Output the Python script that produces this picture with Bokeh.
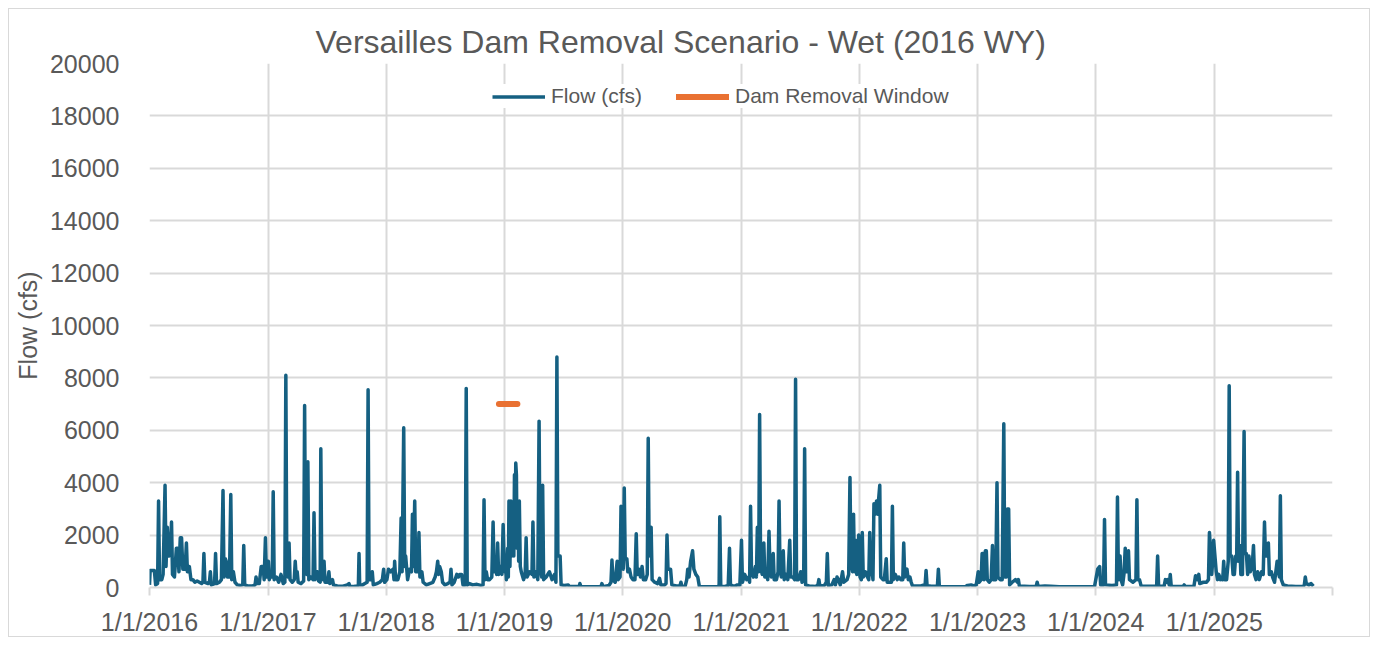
import pandas as pd
from bokeh.plotting import figure
from bokeh.models import ColumnDataSource, Range1d, FixedTicker, Legend, LegendItem
from bokeh.embed import file_html
from bokeh.resources import INLINE

# ---------------- data ----------------
# daily-flow hydrograph, one pair of lists per calendar year ("MM-DD", cfs)
days_2016 = ["01-01", "01-03", "01-16", "01-20", "01-26", "01-29", "02-01", "02-08", "02-12", "02-18",
             "02-21", "02-25", "03-01", "03-06", "03-09", "03-12", "03-18", "03-24", "03-28", "04-01",
             "04-05", "04-09", "04-13", "04-20", "04-24", "04-27", "05-03", "05-08", "05-14", "05-20",
             "05-27", "06-03", "06-10", "06-14", "06-17", "06-20", "06-30", "07-04", "07-07", "07-10",
             "07-20", "07-23", "07-26", "08-04", "08-10", "08-15", "08-18", "08-22", "08-25", "08-29",
             "09-04", "09-08", "09-11", "09-16", "09-21", "09-28", "10-08", "10-15", "10-18", "10-21",
             "10-30", "11-15", "11-22", "11-25", "11-28", "12-05", "12-11", "12-17", "12-20", "12-24",
             "12-27", "12-30"]
flow_2016 = [100, 650, 650, 100, 150, 3300, 300, 300, 500, 3900,
             800, 2300, 1200, 1500, 2500, 500, 400, 1500, 1500, 600,
             1900, 1900, 700, 700, 1700, 600, 800, 300, 300, 200,
             250, 200, 150, 200, 1300, 200, 150, 200, 600, 100,
             150, 1300, 150, 200, 300, 3700, 400, 1100, 1000, 400,
             400, 3550, 300, 600, 200, 100, 80, 100, 1600, 100,
             60, 60, 100, 400, 150, 150, 800, 800, 300, 1900,
             400, 1000]

days_2017 = ["01-02", "01-05", "01-09", "01-14", "01-17", "01-20", "01-27", "02-03", "02-10", "02-17",
             "02-22", "02-25", "02-28", "03-04", "03-07", "03-10", "03-17", "03-23", "03-26", "03-29",
             "04-01", "04-04", "04-13", "04-21", "04-24", "04-27", "05-01", "05-04", "05-07", "05-13",
             "05-20", "05-23", "05-26", "06-02", "06-06", "06-11", "06-13", "06-16", "06-20", "06-23",
             "06-26", "07-04", "07-08", "07-11", "07-19", "07-22", "08-03", "08-20", "09-03", "09-08",
             "09-11", "09-25", "10-04", "10-07", "10-09", "10-11", "10-20", "10-27", "11-03", "11-06",
             "11-09", "11-15", "11-19", "11-22", "12-03", "12-12", "12-20", "12-24", "12-27"]
flow_2017 = [1000, 300, 500, 400, 3650, 300, 400, 200, 500, 150,
             200, 8100, 600, 400, 1700, 300, 200, 300, 1000, 400,
             600, 200, 150, 250, 6950, 600, 500, 4800, 300, 400,
             300, 2850, 300, 600, 250, 200, 5300, 500, 300, 1000,
             200, 200, 600, 150, 300, 100, 60, 50, 100, 150,
             40, 50, 60, 100, 1300, 100, 100, 150, 200, 7550,
             300, 300, 600, 100, 150, 200, 300, 700, 200]

days_2018 = ["01-03", "01-08", "01-15", "01-22", "01-25", "01-27", "01-30", "02-06", "02-12", "02-16",
             "02-19", "02-24", "02-27", "03-02", "03-08", "03-14", "03-20", "03-23", "03-26", "03-30",
             "04-02", "04-06", "04-09", "04-12", "04-15", "04-21", "04-25", "05-05", "05-15", "05-25",
             "06-01", "06-05", "06-09", "06-12", "06-15", "06-20", "06-24", "07-01", "07-10", "07-17",
             "07-20", "07-23", "07-30", "08-07", "08-12", "08-16", "08-22", "08-26", "09-02", "09-05",
             "09-08", "09-15", "09-25", "10-08", "10-20", "10-27", "10-30", "11-02", "11-06", "11-10",
             "11-16", "11-23", "11-27", "11-30", "12-04", "12-08", "12-11", "12-14", "12-18", "12-24",
             "12-28"]
flow_2018 = [300, 700, 600, 700, 300, 1000, 300, 300, 600, 2650,
             600, 6100, 800, 1200, 300, 700, 600, 2800, 800, 3300,
             600, 1000, 600, 2100, 400, 600, 200, 100, 150, 200,
             400, 600, 1000, 500, 800, 600, 200, 100, 150, 200,
             700, 100, 200, 500, 400, 500, 500, 100, 100, 7600,
             100, 150, 100, 120, 80, 100, 3350, 300, 600, 300,
             300, 400, 2500, 600, 1000, 500, 1700, 500, 800, 500,
             2400]

days_2019 = ["01-01", "01-04", "01-07", "01-11", "01-13", "01-15", "01-18", "01-21", "01-24", "01-28",
             "01-30", "02-01", "02-03", "02-05", "02-07", "02-09", "02-12", "02-14", "02-16", "02-19",
             "02-22", "03-01", "03-06", "03-09",
             "03-12", "03-20", "03-27", "03-30", "04-02", "04-08", "04-14", "04-18", "04-21", "04-26",
             "04-29", "05-02", "05-10", "05-20", "05-28", "06-05", "06-09", "06-12", "06-15", "06-22",
             "06-25", "07-05", "07-17", "07-20", "08-20", "08-22", "08-25", "10-26", "10-29", "11-01",
             "11-20", "11-26", "11-29", "12-02", "12-09", "12-15", "12-18", "12-24", "12-27"]
flow_2019 = [600, 1000, 300, 1500, 400, 3300, 800, 3300, 1200, 3000,
             1200, 4300, 2000, 4750, 4300, 1500, 3300, 1000, 3300, 800,
             600, 300, 500, 1900,
             400, 600, 500, 2500, 400, 600, 300, 6350, 800, 400,
             3900, 300, 400, 600, 300, 500, 200, 8800, 1200, 1200,
             100, 80, 100, 40, 40, 150, 30, 30, 150, 30,
             80, 200, 1050, 300, 200, 1000, 300, 400, 3100]

days_2020 = ["01-03", "01-06", "01-09", "01-14", "01-17", "01-22", "01-27", "02-02", "02-08", "02-12",
             "02-15", "02-20", "02-25", "03-01", "03-05", "03-12", "03-17", "03-20", "03-23", "03-26",
             "03-29", "04-01", "04-09", "04-18", "04-24", "04-28", "05-10", "05-14", "05-17", "05-20",
             "05-28", "06-01", "06-15", "06-26", "06-29", "07-02", "07-12", "07-17", "07-20", "07-24",
             "07-29", "08-04", "08-08", "08-14", "08-20", "08-25", "10-22", "10-25", "10-27", "10-30",
             "11-10", "11-22", "11-26", "11-29", "12-10", "12-20", "12-28"]
flow_2020 = [700, 3800, 1100, 1100, 600, 700, 400, 300, 300, 2050,
             500, 700, 400, 800, 300, 300, 500, 5700, 1200, 2300,
             2300, 300, 200, 150, 350, 100, 100, 150, 2000, 700,
             700, 100, 60, 60, 200, 40, 50, 300, 700, 400,
             1000, 1400, 700, 500, 400, 40, 30, 100, 2700, 60,
             30, 80, 1500, 100, 40, 100, 100]

days_2021 = ["01-02", "01-05", "01-12", "01-18", "01-24", "01-27", "01-30", "02-02", "02-08", "02-14",
             "02-17", "02-20", "02-24", "02-27", "03-02", "03-07", "03-12", "03-15", "03-20", "03-24",
             "03-28", "03-31", "04-04", "04-10", "04-13", "04-20", "04-25", "04-28", "05-01", "05-05",
             "05-11", "05-14", "05-20", "05-25", "05-31", "06-03", "06-10", "06-15", "06-18", "06-21",
             "06-27", "07-04", "07-08", "07-13", "07-16", "07-19", "07-30", "08-20", "08-26", "08-29",
             "09-01", "09-15", "09-21", "09-24", "09-27", "10-08", "10-15", "10-19", "10-24", "10-28",
             "11-03", "11-10", "11-14", "11-24", "11-29", "12-03", "12-06", "12-11", "12-14", "12-17",
             "12-20", "12-24", "12-30"]
flow_2021 = [1800, 200, 500, 300, 400, 200, 3100, 600, 400, 800,
             400, 2300, 600, 6600, 800, 500, 1700, 400, 600, 300,
             2150, 700, 400, 1300, 300, 300, 600, 3300, 700, 400,
             1400, 300, 500, 300, 1800, 400, 400, 300, 7950, 300,
             300, 600, 200, 300, 5300, 100, 60, 40, 100, 300,
             60, 80, 200, 1300, 80, 100, 300, 100, 400, 300,
             100, 600, 200, 300, 500, 4200, 1000, 600, 2800, 600,
             1800, 500, 2000]

days_2022 = ["01-03", "01-07", "01-10", "01-13", "01-20", "01-26", "01-30", "02-02", "02-05", "02-09",
             "02-12", "02-15", "02-19", "02-23", "02-27", "03-01", "03-05", "03-08", "03-15", "03-19",
             "03-25", "03-28", "04-05", "04-10", "04-13", "04-16", "04-22", "04-28", "05-03", "05-09",
             "05-15", "05-18", "05-21", "05-28", "06-01", "06-06", "06-10", "06-14", "07-10", "07-20",
             "07-23", "07-26", "07-29", "08-10", "08-30", "09-02", "09-05", "10-15", "11-25", "12-01",
             "12-12", "12-20", "12-28"]
flow_2022 = [400, 300, 2100, 400, 600, 400, 300, 2100, 500, 600,
             300, 3200, 2800, 3300, 2800, 3300, 3900, 400, 300, 300,
             1100, 200, 200, 200, 3100, 300, 500, 300, 400, 300,
             300, 1700, 400, 700, 300, 400, 200, 60, 60, 100,
             80, 650, 80, 50, 50, 700, 40, 30, 40, 80,
             100, 60, 100]

days_2023 = ["01-03", "01-06", "01-12", "01-15", "01-18", "01-21", "01-25", "01-28", "01-31", "02-06",
             "02-12", "02-16", "02-19", "02-26", "03-02", "03-05", "03-12", "03-18", "03-23", "03-26",
             "03-31", "04-03", "04-07", "04-10", "04-18", "04-28", "05-04", "05-07", "05-10", "06-10",
             "07-01", "07-04", "07-07", "07-28", "08-15", "09-10", "12-28"]
flow_2023 = [600, 200, 300, 1300, 1300, 300, 1400, 1400, 300, 200,
             300, 1600, 300, 300, 4000, 400, 300, 300, 6250, 400,
             400, 3000, 3000, 100, 200, 300, 200, 300, 60, 40,
             40, 200, 40, 60, 50, 30, 30]

days_2024 = ["01-07", "01-13", "01-16", "01-25", "01-28", "01-31", "02-20", "03-05", "03-08", "03-11",
             "03-16", "03-19", "03-24", "03-28", "04-01", "04-05", "04-08", "04-11", "04-14", "04-25",
             "05-04", "05-07", "05-10", "05-15", "05-20", "06-25", "07-07", "07-10", "07-13", "07-30",
             "08-03", "08-08", "08-10", "08-15", "08-18", "08-21", "09-27", "09-30", "10-03", "10-30",
             "11-04", "11-09", "11-14", "11-17", "11-28", "12-08", "12-14", "12-17", "12-20", "12-24",
             "12-27", "12-30"]
flow_2024 = [700, 800, 100, 100, 2600, 100, 80, 100, 3450, 300,
             1200, 300, 100, 500, 1500, 600, 1000, 1400, 300, 200,
             300, 3350, 300, 300, 60, 50, 60, 1200, 60, 50,
             300, 200, 300, 100, 500, 50, 40, 100, 40, 40,
             450, 300, 500, 150, 200, 200, 300, 2100, 1500, 500,
             1000, 1800]

days_2025 = ["01-03", "01-07", "01-11", "01-15", "01-20", "01-24", "01-27", "01-30", "02-02", "02-08",
             "02-13", "02-16", "02-19", "02-24", "02-28", "03-04", "03-08", "03-11", "03-14", "03-17",
             "03-21", "03-24", "03-29", "04-03", "04-06", "04-10", "04-14", "04-18", "04-22", "04-28",
             "05-02", "05-05", "05-10", "05-15", "05-20", "05-27", "06-01", "06-05", "06-08", "06-12",
             "06-17", "06-20", "06-26", "06-30", "07-06", "07-11", "07-14", "07-18", "07-21", "07-24",
             "07-27", "08-02", "08-15", "09-10", "10-03", "10-06", "10-09", "10-12", "10-20", "10-27",
             "11-03"]
flow_2025 = [1200, 600, 300, 500, 300, 400, 300, 1000, 300, 300,
             1000, 7700, 1200, 1200, 500, 500, 1200, 1000, 4400, 1000,
             1600, 500, 500, 5950, 1300, 1300, 500, 1200, 600, 800,
             1600, 500, 300, 600, 300, 600, 500, 2500, 1200, 1200,
             1700, 500, 600, 400, 200, 700, 1000, 600, 400, 3500,
             300, 100, 60, 40, 40, 100, 400, 150, 100, 150,
             50]

removal_dates = ["2018-12-15", "2019-02-10"]
removal_flow = [7000, 7000]

x_tick_years = [2016, 2017, 2018, 2019, 2020, 2021, 2022, 2023, 2024, 2025, 2026]
x_tick_labels = ["1/1/2016", "1/1/2017", "1/1/2018", "1/1/2019", "1/1/2020", "1/1/2021",
                 "1/1/2022", "1/1/2023", "1/1/2024", "1/1/2025", ""]
y_ticks = [0, 2000, 4000, 6000, 8000, 10000, 12000, 14000, 16000, 18000, 20000]

# ---------------- build ----------------
years = {2016: (days_2016, flow_2016), 2017: (days_2017, flow_2017), 2018: (days_2018, flow_2018),
         2019: (days_2019, flow_2019), 2020: (days_2020, flow_2020), 2021: (days_2021, flow_2021),
         2022: (days_2022, flow_2022), 2023: (days_2023, flow_2023), 2024: (days_2024, flow_2024),
         2025: (days_2025, flow_2025)}


def ms(s):
    return pd.Timestamp(s).value / 1e6


xs, ys = [], []
for yr, (dd, ff) in years.items():
    assert len(dd) == len(ff), (yr, len(dd), len(ff))
    xs += [ms(f"{yr}-{d}") for d in dd]
    ys += ff

src = ColumnDataSource(dict(x=xs, y=ys))
src_win = ColumnDataSource(dict(x=[ms(d) for d in removal_dates], y=removal_flow))
tick_ms = [ms(f"{y}-01-01") for y in x_tick_years]

GREY_TXT = "#595959"
GRID = "#d9d9d9"
FONT = "Liberation Sans"

p = figure(width=1362, height=629, output_backend="svg", toolbar_location=None,
           x_axis_type="datetime",
           x_range=Range1d(tick_ms[0], tick_ms[-1]), y_range=Range1d(0, 20000),
           min_border_left=140, min_border_right=39, min_border_top=54, min_border_bottom=49,
           title="Versailles Dam Removal Scenario - Wet (2016 WY)")

p.styles = {"margin": "8px", "border": "1px solid #d9d9d9"}
p.outline_line_color = None
p.background_fill_color = "white"
p.border_fill_color = "white"

p.title.align = "left"
p.title.offset = 166
p.title.text_font = FONT
p.title.text_font_size = "32px"
p.title.text_font_style = "normal"
p.title.text_color = GREY_TXT
p.title.standoff = 8

r_flow = p.line("x", "y", source=src, line_color="#156082", line_width=3.5, line_join="round")
r_win = p.line("x", "y", source=src_win, line_color="#E97132", line_width=6, line_cap="round")

# axes
p.xaxis.ticker = FixedTicker(ticks=tick_ms)
p.xaxis.major_label_overrides = {t: lab for t, lab in zip(tick_ms, x_tick_labels)}
p.xaxis.axis_line_color = GRID
p.xaxis.axis_line_width = 2
p.xaxis.major_tick_line_color = GRID
p.xaxis.major_tick_line_width = 2
p.xaxis.major_tick_out = 8
p.xaxis.major_tick_in = 0
p.xaxis.minor_tick_line_color = None
p.xaxis.major_label_text_font = FONT
p.xaxis.major_label_text_font_size = "25px"
p.xaxis.major_label_text_color = GREY_TXT
p.xaxis.major_label_standoff = 12

p.yaxis.ticker = FixedTicker(ticks=y_ticks)
p.yaxis.axis_line_color = None
p.yaxis.major_tick_line_color = None
p.yaxis.minor_tick_line_color = None
p.yaxis.major_label_standoff = 24
p.yaxis.major_label_text_font = FONT
p.yaxis.major_label_text_font_size = "25px"
p.yaxis.major_label_text_color = GREY_TXT
p.yaxis.axis_label = "Flow (cfs)"
p.yaxis.axis_label_text_font = FONT
p.yaxis.axis_label_text_font_size = "25px"
p.yaxis.axis_label_text_font_style = "normal"
p.yaxis.axis_label_text_color = GREY_TXT
p.yaxis.axis_label_standoff = 5

p.xgrid.ticker = FixedTicker(ticks=tick_ms)
p.ygrid.ticker = FixedTicker(ticks=y_ticks)
for g in (p.xgrid, p.ygrid):
    g.grid_line_color = GRID
    g.grid_line_width = 2

legend = Legend(items=[LegendItem(label="Flow (cfs)", renderers=[r_flow]),
                       LegendItem(label="Dam Removal Window", renderers=[r_win])],
                orientation="horizontal", location=(343, 479),
                background_fill_color="white", background_fill_alpha=1.0,
                border_line_color=None, padding=10, spacing=34,
                glyph_width=53, glyph_height=23, label_height=23, label_standoff=6,
                label_text_font=FONT, label_text_font_size="21px", label_text_color=GREY_TXT)
p.add_layout(legend, "center")

open("out.html", "w").write(file_html(p, INLINE))
